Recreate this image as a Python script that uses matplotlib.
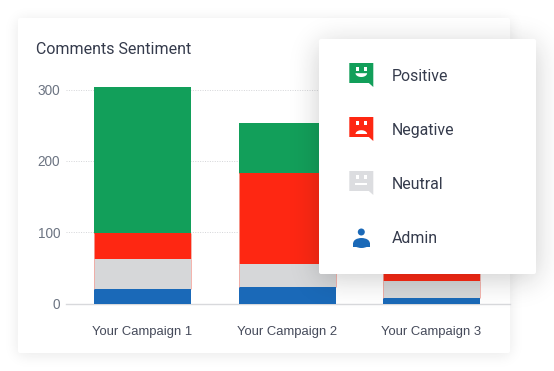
import numpy as np
import matplotlib
matplotlib.use("Agg")
import matplotlib.pyplot as plt
from math import erf
from matplotlib.patches import FancyBboxPatch, Polygon, Rectangle, Circle, Ellipse

campaigns = ["Your Campaign 1", "Your Campaign 2", "Your Campaign 3"]
admin = [20, 23, 8]
neutral = [42, 32, 24]
negative = [37, 128, 30]
positive = [204, 70, 50]
yticks = [0, 100, 200, 300]
legend_labels = ["Positive", "Negative", "Neutral", "Admin"]
BLUE, GRAY, RED, GREEN = "#1a69b8", "#d6d7d9", "#fe2712", "#129f5a"
TXT = "#353b4c"

W, H = 554, 371
fig = plt.figure(figsize=(W/100, H/100), dpi=100, facecolor="white")

def shadow(x0, y0, x1, y1, sigma, alpha, dy=0):
    e = np.vectorize(erf)
    xs = np.arange(W) + .5
    ys = np.arange(H) + .5
    fx = .5*(e((xs-x0)/(sigma*2**.5)) - e((xs-x1)/(sigma*2**.5)))
    fy = .5*(e((ys-y0-dy)/(sigma*2**.5)) - e((ys-y1-dy)/(sigma*2**.5)))
    a = np.outer(fy, fx)*alpha
    img = np.zeros((H, W, 4))
    img[..., :3] = .1
    img[..., 3] = a
    return img

bg = fig.add_axes([0, 0, 1, 1], zorder=0)
bg.axis("off")
bg.imshow(shadow(18, 18, 510, 353, 7, .10, 2), extent=(0, W, H, 0), aspect="auto", zorder=1)
bg.set_xlim(0, W); bg.set_ylim(H, 0)
bg.add_patch(FancyBboxPatch((20, 20), 488, 331, boxstyle="round,pad=2,rounding_size=2", fc="white", ec="none", zorder=2))
bg.text(36, 49.3, "Comments Sentiment", family="Roboto", fontsize=11.5, color=TXT, va="center", ha="left", zorder=3)

# chart axes: y=0 at px 303.5, y=300 at px 89.5; bar centres at 142.5, 287, 431.5
left, right = 66.0, 510.0
scale = 144.5
ax = fig.add_axes([left/W, 1-303.5/H, (right-left)/W, 214/H], zorder=1)
ax.patch.set_alpha(0)
ax.set_ylim(0, 300)
ax.set_xlim((left-142.5)/scale, (right-142.5)/scale)
x = np.arange(len(campaigns))
bw = 97/scale
b = np.zeros(3)
for vals, c in [(admin, BLUE), (neutral, GRAY), (negative, RED), (positive, GREEN)]:
    ax.bar(x, vals, bottom=b, width=bw, color=c, linewidth=0, zorder=3, clip_on=False)
    if c in (GRAY, RED):
        for side in (-1, 1):
            ax.vlines(x+side*bw/2, b, b+np.array(vals), color="#f3a79f", linewidth=0.6, zorder=4)
    b = b + np.array(vals)
ax.set_xticks(x, campaigns, family="Liberation Sans", fontsize=9.4, color="#454a5a")
ax.set_yticks(yticks, [str(t) for t in yticks], family="Liberation Sans", fontsize=9.8, color="#6c7482")
ax.tick_params(axis="both", length=0)
ax.tick_params(axis="x", pad=16.5)
ax.tick_params(axis="y", pad=4.2)
ax.grid(axis="y", color="#d4d5d8", linestyle=(0, (1, 1.5)), linewidth=0.7, zorder=0)
for s in ["top", "right", "left"]:
    ax.spines[s].set_visible(False)
ax.spines["bottom"].set_color("#d8d9dc")
ax.spines["bottom"].set_linewidth(1)

# popup legend panel
top = fig.add_axes([0, 0, 1, 1], zorder=2)
top.patch.set_alpha(0); top.axis("off")
top.imshow(shadow(319, 39, 536, 274, 14, .22, 5), extent=(0, W, H, 0), aspect="auto", zorder=1)
top.set_xlim(0, W); top.set_ylim(H, 0)
top.add_patch(FancyBboxPatch((321, 41), 213, 231, boxstyle="round,pad=2,rounding_size=2", fc="white", ec="none", zorder=2))

def bubble(y, c, face):
    x0, x1, y0 = 349.3, 373.3, y
    top.add_patch(Polygon([(x0, y0), (x1, y0), (x1, y0+24), (x1-4.5, y0+20), (x0, y0+20)], fc=c, ec="none", zorder=3))
    for ex in (x0+6.3, x0+14.3):
        top.add_patch(Rectangle((ex, y0+4.3), 3.4, 3.8, fc="white", ec="none", zorder=4))
    cx = x0+12
    t = np.linspace(0, np.pi, 30)
    if face == "smile":
        top.add_patch(Polygon(np.c_[cx+5.8*np.cos(t), y0+10.2+3.8*np.sin(t)], fc="white", ec="none", zorder=4))
    elif face == "frown":
        top.add_patch(Polygon(np.c_[cx+5.8*np.cos(t), y0+17-3.8*np.sin(t)], fc="white", ec="none", zorder=4))
    else:
        top.add_patch(Rectangle((cx-6, y0+12.3), 12, 1.9, fc="white", ec="none", zorder=4))

rows = [76.8, 130.8, 184.8, 238.8]
bubble(63, GREEN, "smile")
bubble(117, "#fe2712", "frown")
bubble(171, "#dcdde0", "flat")
top.add_patch(Circle((361.3, 232), 3.5, fc=BLUE, ec="none", zorder=3))
top.add_patch(Ellipse((361.5, 243), 16.6, 10, fc=BLUE, ec="none", zorder=3))
top.add_patch(Rectangle((353.2, 243), 16.6, 3.5, fc=BLUE, ec="none", zorder=3))
for lab, yy in zip(legend_labels, rows):
    top.text(391.5, yy, lab, family="Roboto", fontsize=11.4, color=TXT, va="center", ha="left", zorder=3)

fig.savefig("out.png", dpi=100)
